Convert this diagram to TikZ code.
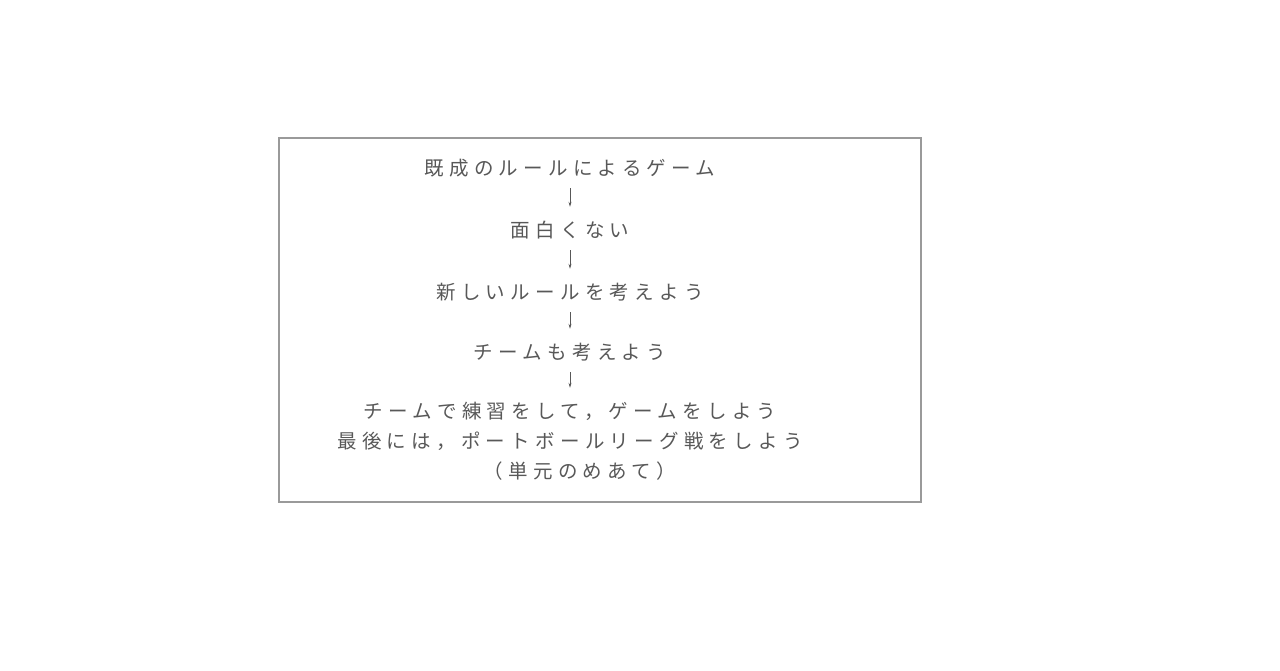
\documentclass[tikz,border=0pt]{standalone}
\usepackage{fontspec}
\usetikzlibrary{arrows.meta}
\newfontfamily\jpfont[LetterSpace=27]{Noto Sans CJK JP}
\definecolor{inkgray}{HTML}{585858}
\definecolor{framegray}{HTML}{9A9A9A}

\begin{document}
\begin{tikzpicture}[x=1pt,y=-1pt,
  step text/.style={inner sep=0pt, minimum height=20pt, text=inkgray,
    font=\jpfont\fontsize{19.5}{19.5}\selectfont},
  flow arrow/.style={draw=inkgray, line width=0.8pt, shorten <=10pt, shorten >=13pt,
    -{Stealth[length=5pt,width=3pt]}}]
\useasboundingbox (0,0) rectangle (1280,670);
\draw[framegray, line width=1.3pt] (279,138) rectangle (921,502);

\node[step text] (rules) at (570,168) {既成のルールによるゲーム};
\node[step text] (boring) at (570,230) {面白くない};
\node[step text] (newrule) at (570,292) {新しいルールを考えよう};
\node[step text] (team) at (570,352) {チームも考えよう};
\node[step text] (practice) at (570,411) {チームで練習をして，ゲームをしよう};
\node[step text] (league) at (570,441) {最後には，ポートボールリーグ戦をしよう};
\node[step text] (aim) at (580,471) {（単元のめあて）};

\draw[flow arrow] (rules) -- (boring);
\draw[flow arrow] (boring) -- (newrule);
\draw[flow arrow] (newrule) -- (team);
\draw[flow arrow] (team) -- (practice);
\end{tikzpicture}
\end{document}
